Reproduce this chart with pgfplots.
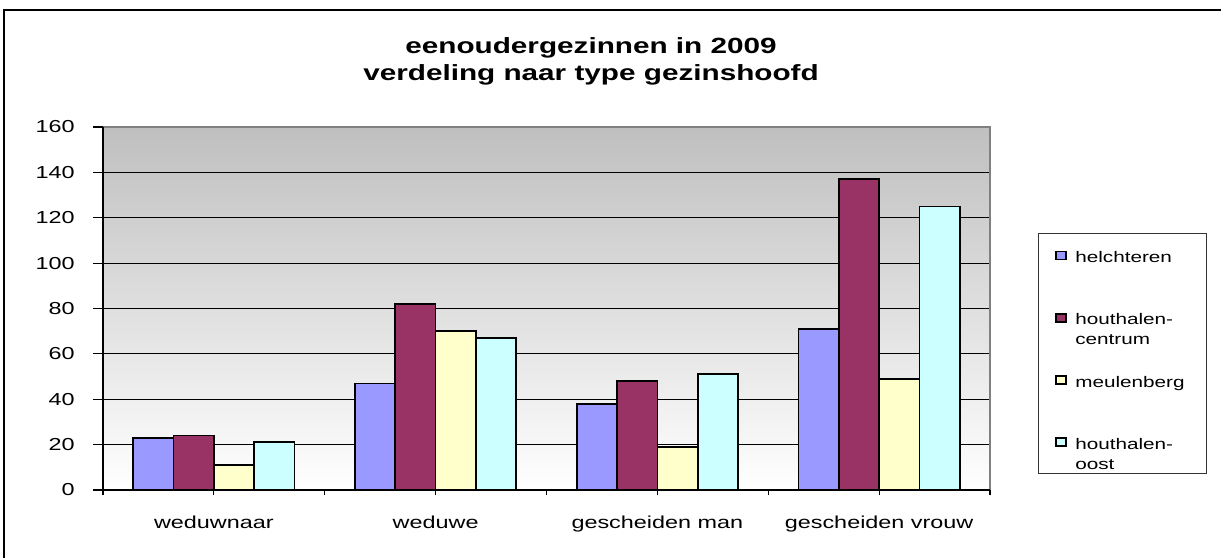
\documentclass[border=0pt]{standalone}
\usepackage{fontspec}
\setmainfont[FakeStretch=1.35]{Liberation Sans}
\newfontfamily\legfont[FakeStretch=1.35]{Liberation Sans}
\usepackage{pgfplots}
\pgfplotsset{compat=1.18}
\definecolor{cHel}{RGB}{153,153,255}
\definecolor{cCen}{RGB}{153,51,102}
\definecolor{cMeu}{RGB}{255,255,204}
\definecolor{cOos}{RGB}{204,255,255}
\begin{document}
\begin{tikzpicture}
\path[use as bounding box] (0,0) rectangle (915.75pt,417.75pt);
\fill[white] (0,0) rectangle (915.75pt,417.75pt);
\draw[black, line width=1pt] (3pt,-2pt) -- (3pt,410.25pt) -- (920pt,410.25pt);
\begin{axis}[
  at={(77.25pt,50.25pt)}, anchor=south west,
  scale only axis, width=665.25pt, height=272.25pt,
  xmin=-0.5, xmax=3.5, ymin=0, ymax=160,
  ybar, bar width=0.18182,
  ytick={0,20,...,160},
  xtick={-0.5,0.5,1.5,2.5,3.5}, xticklabels={},
  extra x ticks={0,1,2,3},
  extra x tick labels={weduwnaar, weduwe, gescheiden man, gescheiden vrouw},
  extra x tick style={major tick length=0pt, xticklabel style={anchor=base, yshift=-28.5pt, inner sep=0pt}},
  tick pos=left,
  tick align=outside, major tick length=7.5pt,
  xtick style={/pgfplots/major tick length=4pt},
  tick style={black, line width=0.8pt},
  ymajorgrids, major grid style={black, line width=0.7pt},
  axis line style={draw=none},
  axis background/.style={shade, top color=black!25, bottom color=white},
  /pgf/number format/assume math mode=true,
  tick label style={font=\fontsize{13}{15}\selectfont},
  yticklabel style={anchor=east, inner sep=0pt, xshift=-13.5pt},
  title={eenoudergezinnen in 2009\\verdeling naar type gezinshoofd},
  title style={at={(0.5502,1.224)}, anchor=north, align=center, inner sep=0pt,
    font=\bfseries\fontsize{16.5}{20}\selectfont},
  legend style={at={(1.0537,0.708)}, anchor=north west, draw=black!80, line width=0.75pt,
    fill=white, inner xsep=13pt, inner ysep=0pt, row sep=0pt, column sep=6.1pt,
    font=\legfont\fontsize{11.5}{15}\selectfont, cells={anchor=base west},
    nodes={inner sep=0pt, text width=85pt, align=left, text depth=0pt}},
  legend image code/.code={\draw[#1, draw=black, line width=1.3pt] (0pt,2.3pt) rectangle (7.5pt,8.3pt);},
  extra description/.code={
    \draw[black!50, line width=1pt] (rel axis cs:0,1) -- (rel axis cs:1,1) -- (rel axis cs:1,0);
    \draw[black, line width=1pt] (rel axis cs:0,1) -- (rel axis cs:0,0) -- (rel axis cs:1,0);
  },
]
\addplot[fill=cHel, draw=black, line width=1.3pt, bar shift=-0.27273] coordinates {(0,23) (1,47) (2,38) (3,71)};
\addlegendentry[text height=21.75pt]{helchteren}
\addplot[fill=cCen, draw=black, line width=1.3pt, bar shift=-0.09091] coordinates {(0,24) (1,82) (2,48) (3,137)};
\addlegendentry[text height=46.7pt]{houthalen-\\centrum}
\addplot[fill=cMeu, draw=black, line width=1.3pt, bar shift=0.09091] coordinates {(0,11) (1,70) (2,19) (3,49)};
\addlegendentry[text height=46.7pt]{meulenberg}
\addplot[fill=cOos, draw=black, line width=1.3pt, bar shift=0.27273] coordinates {(0,21) (1,67) (2,51) (3,125)};
\addlegendentry[text height=46.7pt, text depth=18.2pt]{houthalen-\\oost}
\end{axis}
\end{tikzpicture}
\end{document}
